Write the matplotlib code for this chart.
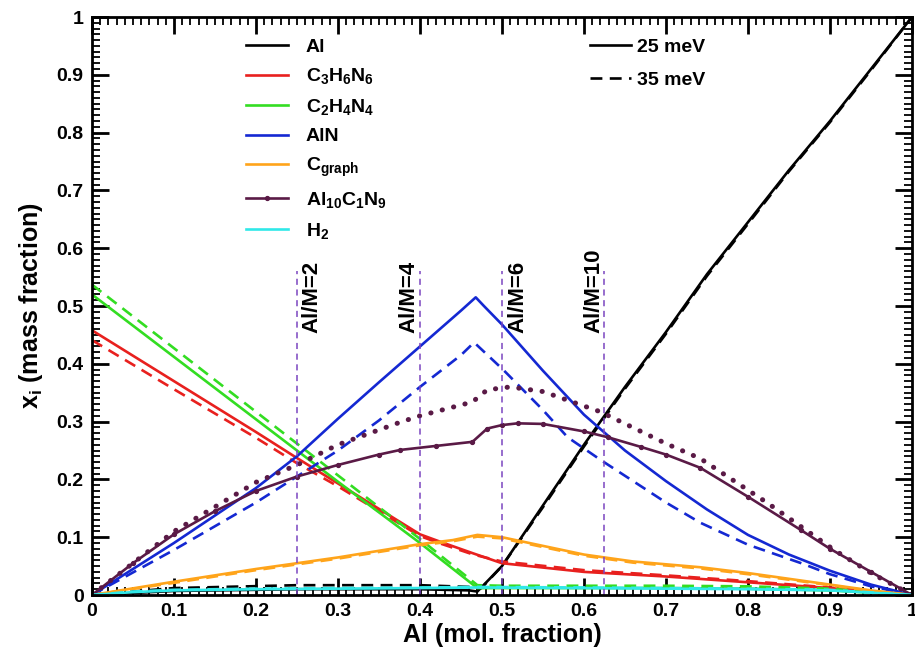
import matplotlib
matplotlib.use("Agg")
import matplotlib.pyplot as plt
from matplotlib.ticker import MultipleLocator
from matplotlib.lines import Line2D

plt.rcParams['font.family'] = ['Liberation Sans', 'DejaVu Sans']
plt.rcParams['font.weight'] = 'bold'
plt.rcParams['mathtext.fontset'] = 'custom'
plt.rcParams['mathtext.rm'] = 'Liberation Sans:bold'
plt.rcParams['mathtext.it'] = 'Liberation Sans:bold'
plt.rcParams['mathtext.bf'] = 'Liberation Sans:bold'

# ---- data (Al mole fraction vs mass fraction) ----
# Al
al_x_25 = [0, 0.1, 0.25, 0.4, 0.46, 0.47, 0.5, 0.55, 0.6, 0.65, 0.7, 0.75, 0.8, 0.85, 0.9, 0.95, 1.0]
al_y_25 = [0, 0.007, 0.010, 0.010, 0.008, 0.006, 0.05, 0.155, 0.26, 0.36, 0.455, 0.555, 0.645, 0.735, 0.82, 0.91, 1.0]
al_x_35 = [0, 0.1, 0.25, 0.4, 0.46, 0.475, 0.5, 0.55, 0.6, 0.65, 0.7, 0.75, 0.8, 0.85, 0.9, 0.95, 1.0]
al_y_35 = [0, 0.012, 0.017, 0.017, 0.014, 0.012, 0.05, 0.152, 0.257, 0.357, 0.452, 0.552, 0.642, 0.733, 0.818, 0.908, 1.0]

# C3H6N6
c3_x = [0, 0.1, 0.2, 0.25, 0.3, 0.4, 0.425, 0.465, 0.5, 0.6, 0.7, 0.8, 0.9, 1.0]
c3_y_25 = [0.458, 0.370, 0.282, 0.237, 0.193, 0.105, 0.092, 0.072, 0.055, 0.040, 0.032, 0.022, 0.012, 0]
c3_y_35 = [0.441, 0.356, 0.272, 0.228, 0.188, 0.102, 0.089, 0.070, 0.058, 0.043, 0.034, 0.024, 0.013, 0]

# C2H4N4
c2_x = [0, 0.1, 0.2, 0.25, 0.3, 0.4, 0.47, 0.5, 0.6, 0.7, 0.8, 0.9, 1.0]
c2_y_25 = [0.52, 0.412, 0.304, 0.250, 0.196, 0.090, 0.012, 0.012, 0.012, 0.012, 0.011, 0.008, 0]
c2_y_35 = [0.537, 0.427, 0.317, 0.262, 0.207, 0.097, 0.017, 0.016, 0.016, 0.016, 0.015, 0.011, 0]

# AlN
aln_x_25 = [0, 0.1, 0.2, 0.25, 0.3, 0.35, 0.4, 0.45, 0.468, 0.478, 0.5, 0.55, 0.6, 0.65, 0.7, 0.75, 0.8, 0.85, 0.9, 0.95, 1.0]
aln_y_25 = [0, 0.09, 0.185, 0.24, 0.305, 0.368, 0.43, 0.492, 0.515, 0.50, 0.468, 0.388, 0.312, 0.25, 0.197, 0.148, 0.104, 0.07, 0.042, 0.018, 0]
aln_x_35 = [0, 0.1, 0.2, 0.25, 0.3, 0.35, 0.4, 0.45, 0.466, 0.502, 0.55, 0.58, 0.62, 0.7, 0.742, 0.8, 0.865, 0.9, 0.95, 1.0]
aln_y_35 = [0, 0.078, 0.16, 0.205, 0.25, 0.302, 0.36, 0.415, 0.437, 0.389, 0.32, 0.273, 0.234, 0.16, 0.125, 0.087, 0.055, 0.036, 0.015, 0]

# C graph
cg_x = [0, 0.1, 0.2, 0.25, 0.3, 0.4, 0.44, 0.47, 0.5, 0.6, 0.66, 0.742, 0.8, 0.9, 0.95, 1.0]
cg_y_25 = [0, 0.023, 0.045, 0.055, 0.065, 0.088, 0.095, 0.104, 0.100, 0.070, 0.058, 0.048, 0.038, 0.018, 0.008, 0]
cg_y_35 = [0, 0.021, 0.043, 0.053, 0.063, 0.086, 0.093, 0.101, 0.098, 0.068, 0.056, 0.046, 0.036, 0.017, 0.007, 0]

# Al10C1N9
acn_x_25 = [0, 0.05, 0.1, 0.15, 0.2, 0.25, 0.3, 0.35, 0.376, 0.42, 0.464, 0.482, 0.5, 0.519, 0.55, 0.6, 0.629, 0.67, 0.7, 0.742, 0.8, 0.865, 0.9, 0.95, 1.0]
acn_y_25 = [0, 0.055, 0.105, 0.145, 0.18, 0.205, 0.225, 0.243, 0.251, 0.258, 0.265, 0.288, 0.294, 0.297, 0.296, 0.283, 0.273, 0.256, 0.243, 0.22, 0.17, 0.112, 0.08, 0.04, 0]
acn_x_35 = [0, 0.1, 0.2, 0.25, 0.3, 0.376, 0.4, 0.464, 0.482, 0.51, 0.55, 0.62, 0.7, 0.742, 0.824, 0.865, 0.905, 0.95, 1.0]
acn_y_35 = [0, 0.11, 0.195, 0.225, 0.26, 0.299, 0.31, 0.334, 0.355, 0.36, 0.352, 0.317, 0.262, 0.236, 0.159, 0.118, 0.078, 0.038, 0]

# H2
h2_x = [0, 0.05, 0.1, 0.2, 0.4, 0.47, 0.6, 0.8, 0.9, 1.0]
h2_y_25 = [0, 0.005, 0.008, 0.010, 0.012, 0.013, 0.012, 0.010, 0.008, 0]
h2_y_35 = [0, 0.006, 0.009, 0.011, 0.013, 0.014, 0.013, 0.011, 0.009, 0]

# Al/M ratios (vertical markers)
ratio_x = [0.25, 0.4, 0.5, 0.625]
ratio_labels = ['Al/M=2', 'Al/M=4', 'Al/M=6', 'Al/M=10']
ratio_text_x = [0.268, 0.386, 0.52, 0.612]

red = '#e8201e'
green = '#33dd22'
blue = '#1428d2'
orange = '#ffa41a'
purple = '#5a1a46'
cyan = '#30e8e8'
vline = '#7b45c0'

dash = (0, (4.5, 2.8))
lw = 1.9

fig = plt.figure(figsize=(9.15, 6.54), dpi=100)
ax = fig.add_axes([0.1005, 0.0902, 0.8962, 0.8838])

ax.plot(al_x_25, al_y_25, color='black', lw=lw, label='Al')
ax.plot(al_x_35, al_y_35, color='black', lw=lw, ls=dash)
ax.plot(c3_x, c3_y_25, color=red, lw=lw, label='C$_3$H$_6$N$_6$')
ax.plot(c3_x, c3_y_35, color=red, lw=lw, ls=dash)
ax.plot(c2_x, c2_y_25, color=green, lw=lw, label='C$_2$H$_4$N$_4$')
ax.plot(c2_x, c2_y_35, color=green, lw=lw, ls=dash)
ax.plot(aln_x_25, aln_y_25, color=blue, lw=lw, label='AlN')
ax.plot(aln_x_35, aln_y_35, color=blue, lw=lw, ls=dash)
ax.plot(cg_x, cg_y_25, color=orange, lw=lw, label='C$_{graph}$')
ax.plot(cg_x, cg_y_35, color=orange, lw=lw, ls=dash)
ax.plot(acn_x_25, acn_y_25, color=purple, lw=lw, marker='o', ms=2.8, label='Al$_{10}$C$_1$N$_9$')
ax.plot(acn_x_35, acn_y_35, color=purple, lw=3.6, ls=(0, (0.05, 2.3)), dash_capstyle='round')
ax.plot(h2_x, h2_y_25, color=cyan, lw=lw, label='H$_2$')
ax.plot(h2_x, h2_y_35, color=cyan, lw=lw, ls=dash)

for xv, lab, tx in zip(ratio_x, ratio_labels, ratio_text_x):
    ax.plot([xv, xv], [0, 0.56], color=vline, lw=1.1, ls=(0, (4, 3)))
    ax.text(tx, 0.453, lab, rotation=90, ha='center', va='bottom', fontsize=16, fontweight='bold')

leg1 = ax.legend(loc='upper left', bbox_to_anchor=(0.178, 0.977), frameon=False, fontsize=14,
                 handlelength=2.2, handletextpad=0.9, labelspacing=0.55, borderaxespad=0)
ax.add_artist(leg1)
h25 = Line2D([], [], color='black', lw=lw)
h35 = Line2D([], [], color='black', lw=lw, ls=dash)
ax.legend([h25, h35], ['25 meV', '35 meV'], loc='upper left', bbox_to_anchor=(0.598, 0.977),
          frameon=False, fontsize=14, handlelength=2.1, handletextpad=0.3, labelspacing=0.8,
          borderaxespad=0)

ax.set_xlim(0, 1)
ax.set_ylim(0, 1)
ax.set_xticks([0, 0.1, 0.2, 0.3, 0.4, 0.5, 0.6, 0.7, 0.8, 0.9, 1.0])
ax.set_xticklabels(['0', '0.1', '0.2', '0.3', '0.4', '0.5', '0.6', '0.7', '0.8', '0.9', '1'])
ax.set_yticks([0, 0.1, 0.2, 0.3, 0.4, 0.5, 0.6, 0.7, 0.8, 0.9, 1.0])
ax.set_yticklabels(['0', '0.1', '0.2', '0.3', '0.4', '0.5', '0.6', '0.7', '0.8', '0.9', '1'])
ax.xaxis.set_minor_locator(MultipleLocator(0.01))
ax.yaxis.set_minor_locator(MultipleLocator(0.01))
ax.tick_params(which='both', direction='in', top=True, right=True, labelsize=14)
ax.tick_params(which='major', length=12, width=2, pad=6)
ax.tick_params(which='minor', length=6, width=1.3)
for s in ax.spines.values():
    s.set_linewidth(2)

ax.set_xlabel('Al (mol. fraction)', fontsize=18, fontweight='bold', labelpad=2)
ax.set_ylabel('x$_i$ (mass fraction)', fontsize=18, fontweight='bold', labelpad=8)

fig.savefig('out.png', dpi=100)
